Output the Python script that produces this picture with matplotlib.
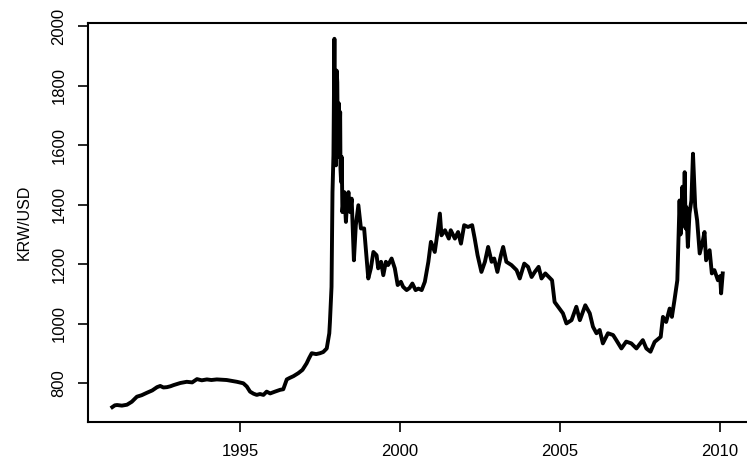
import matplotlib.pyplot as plt

plt.rcParams['font.family'] = ['Liberation Sans', 'DejaVu Sans']

# KRW/USD exchange rate, decimal year vs. won per dollar
years = [1991.00, 1991.08, 1991.15, 1991.30, 1991.46, 1991.61, 1991.77, 1991.92,
         1992.08, 1992.25, 1992.40, 1992.50, 1992.60, 1992.71, 1992.82, 1992.92,
         1993.13, 1993.33, 1993.50, 1993.65, 1993.80, 1993.96, 1994.10, 1994.27,
         1994.45, 1994.58, 1994.75, 1994.90, 1995.10, 1995.21, 1995.31, 1995.42,
         1995.52, 1995.62, 1995.73, 1995.83, 1995.94, 1996.09, 1996.25, 1996.35,
         1996.40, 1996.46, 1996.55, 1996.67, 1996.82, 1996.95, 1997.08, 1997.16,
         1997.24, 1997.38, 1997.50, 1997.60, 1997.71, 1997.79, 1997.81, 1997.86,
         1997.89, 1997.92, 1997.95, 1997.97, 1998.00, 1998.02, 1998.04, 1998.06,
         1998.07, 1998.09, 1998.11, 1998.13, 1998.14, 1998.16, 1998.18, 1998.20,
         1998.26, 1998.31, 1998.35, 1998.39, 1998.44, 1998.49, 1998.56, 1998.62,
         1998.70, 1998.78, 1998.88, 1998.96, 1999.01, 1999.09, 1999.17, 1999.27,
         1999.32, 1999.41, 1999.48, 1999.56, 1999.63, 1999.74, 1999.84, 1999.93,
         2000.03, 2000.10, 2000.21, 2000.30, 2000.39, 2000.49, 2000.58, 2000.68,
         2000.78, 2000.89, 2000.97, 2001.09, 2001.15, 2001.25, 2001.30, 2001.41,
         2001.53, 2001.59, 2001.72, 2001.82, 2001.91, 2002.01, 2002.13, 2002.26,
         2002.34, 2002.43, 2002.55, 2002.66, 2002.76, 2002.87, 2002.95, 2003.05,
         2003.16, 2003.23, 2003.33, 2003.49, 2003.65, 2003.75, 2003.89, 2004.01,
         2004.12, 2004.22, 2004.34, 2004.43, 2004.55, 2004.66, 2004.76, 2004.84,
         2004.95, 2005.10, 2005.21, 2005.37, 2005.52, 2005.63, 2005.80, 2005.94,
         2006.04, 2006.15, 2006.25, 2006.35, 2006.51, 2006.67, 2006.77, 2006.93,
         2007.08, 2007.24, 2007.40, 2007.60, 2007.71, 2007.84, 2007.97, 2008.16,
         2008.23, 2008.33, 2008.44, 2008.51, 2008.59, 2008.68, 2008.75, 2008.78,
         2008.80, 2008.84, 2008.88, 2008.91, 2008.94, 2008.96, 2009.01, 2009.06,
         2009.12, 2009.17, 2009.24, 2009.30, 2009.38, 2009.48, 2009.53, 2009.58,
         2009.69, 2009.76, 2009.84, 2009.95, 2010.02, 2010.05, 2010.10]
rates = [720, 726, 727, 725, 728, 738, 755, 760,
         768, 776, 787, 791, 786, 787, 790, 794,
         801, 805, 803, 814, 810, 813, 811, 813,
         812, 811, 808, 805, 800, 789, 772, 765,
         761, 764, 761, 772, 766, 772, 778, 780,
         795, 813, 818, 824, 834, 845, 867, 885,
         901, 898, 901, 905, 917, 968, 1006, 1124,
         1442, 1565, 1957, 1620, 1532, 1850, 1811, 1560,
         1576, 1740, 1600, 1711, 1520, 1476, 1560, 1375,
         1442, 1342, 1414, 1442, 1375, 1420, 1213, 1331,
         1398, 1320, 1320, 1219, 1152, 1186, 1241, 1230,
         1186, 1208, 1163, 1208, 1197, 1219, 1186, 1130,
         1141, 1124, 1113, 1120, 1135, 1113, 1118, 1113,
         1141, 1208, 1275, 1241, 1286, 1370, 1297, 1314,
         1286, 1314, 1286, 1308, 1269, 1331, 1325, 1331,
         1286, 1230, 1174, 1208, 1258, 1208, 1219, 1174,
         1230, 1258, 1208, 1197, 1180, 1152, 1202, 1191,
         1157, 1174, 1191, 1152, 1169, 1157, 1146, 1073,
         1057, 1035, 1001, 1012, 1057, 1012, 1062, 1035,
         990, 968, 979, 934, 968, 962, 945, 917,
         940, 934, 917, 945, 917, 906, 939, 956,
         1023, 1006, 1051, 1023, 1079, 1146, 1414, 1300,
         1336, 1460, 1330, 1509, 1320, 1392, 1258, 1370,
         1414, 1571, 1392, 1347, 1236, 1280, 1308, 1213,
         1247, 1169, 1180, 1146, 1160, 1102, 1169]

fig = plt.figure(figsize=(7.47, 4.62), dpi=100)
ax = fig.add_axes([88 / 747, 40 / 462, 659 / 747, 399 / 462])

ax.plot(years, rates, color='black', linewidth=2.8, solid_joinstyle='round')

ax.set_xlim(1990.24, 2010.86)
ax.set_ylim(670, 2010)
ax.set_xticks([1995, 2000, 2005, 2010])
ax.set_yticks([800, 1000, 1200, 1400, 1600, 1800, 2000])
ax.set_yticklabels(['800', '1000', '1200', '1400', '1600', '1800', '2000'],
                   rotation=90, va='center')
ax.set_ylabel('KRW/USD', fontsize=11.5, labelpad=14)

for side in ['left', 'top', 'bottom']:
    ax.spines[side].set_linewidth(1.5)
ax.spines['right'].set_visible(False)
ax.tick_params(axis='both', direction='out', length=7.5, width=1.2,
               labelsize=12, pad=8)

fig.savefig('out.png', dpi=100)
